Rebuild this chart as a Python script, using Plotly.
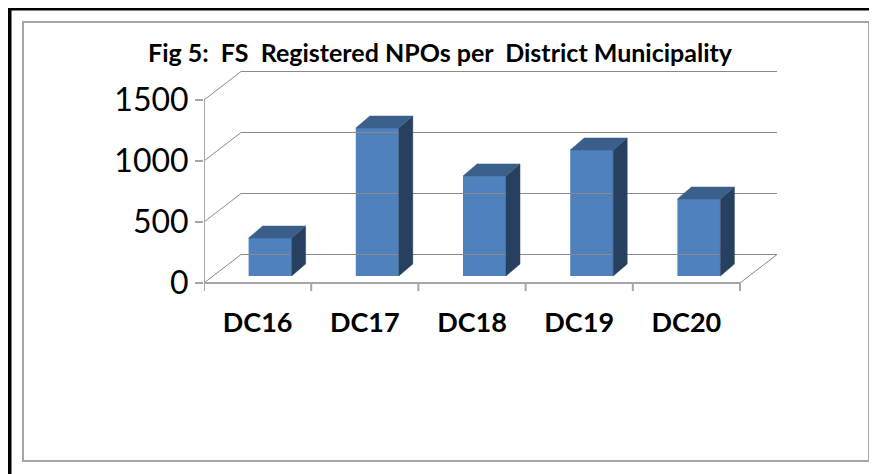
import plotly.graph_objects as go

categories = ["DC16", "DC17", "DC18", "DC19", "DC20"]
values = [311, 1213, 820, 1033, 631]
y_ticks = [0, 500, 1000, 1500]
title_text = "Fig 5:\u00a0 FS\u00a0 Registered NPOs per\u00a0 District Municipality"

# page offset of the figure inside the browser page (body margin)
OFF = 8
W, H = 877 - OFF, 474 - OFF

def P(v):
    return v - OFF

# plot area in page pixels
Lp, Rp, Tp, Bp = 204, 782, 68, 300
px_per_x = 107.2                        # pixels per category
units_per_px = 8.197                    # value units per pixel
x0 = -0.5
xr = [x0, x0 + (Rp - Lp) / px_per_x]
yr = [-(Bp - 283) * units_per_px, (283 - Tp) * units_per_px]

# oblique depth (floor / back wall) and bar depth
Dx, Dy = 37 / px_per_x, 28.5 * units_per_px
fx, fy = 12.5 / px_per_x, 7 * units_per_px
sx, sy = 14 / px_per_x, 12 * units_per_px
bw = 43 / px_per_x
n = len(categories)
xl, xrgt = -0.5, n - 0.5

def px(p):
    return (p - Lp) / (Rp - Lp)

def py(p):
    return (Bp - p) / (Bp - Tp)

fig = go.Figure()

# gridlines: back wall and left wall diagonals
gx, gy = [], []
for v in y_ticks:
    gx += [xl + Dx, xrgt + Dx, None]
    gy += [v + Dy, v + Dy, None]
    gx += [xl, xl + Dx, None]
    gy += [v, v + Dy, None]
gx += [xrgt, xrgt + Dx, None]
gy += [0, Dy, None]
fig.add_trace(go.Scatter(x=gx, y=gy, mode="lines", line=dict(color="#8a8a8a", width=1),
                         hoverinfo="skip", showlegend=False))

# front axes lines and x ticks
ax, ay = [xl, xl, None, xl, xrgt, None], [1500, 0, None, 0, 0, None]
tick_len = 8 * units_per_px
for k in range(n + 1):
    b = xl + k
    ax += [b, b, None]
    ay += [0, -tick_len, None]
fig.add_trace(go.Scatter(x=ax, y=ay, mode="lines", line=dict(color="#a6a6a6", width=2),
                         hoverinfo="skip", showlegend=False))

# bars: front face
xs = [i + fx for i in range(n)]
fig.add_trace(go.Bar(x=xs, y=values, base=[fy] * n, width=bw,
                     marker=dict(color="#4f81bd", line=dict(width=0)),
                     showlegend=False, hoverinfo="skip"))

# side and top faces
for i, v in enumerate(values):
    cx = xs[i]
    left, right = cx - bw / 2, cx + bw / 2
    top = fy + v
    fig.add_trace(go.Scatter(
        x=[right, right, right + sx, right + sx, right],
        y=[fy, top, top + sy, fy + sy, fy],
        mode="lines", fill="toself", fillcolor="#28405f",
        line=dict(color="#28405f", width=0.5), hoverinfo="skip", showlegend=False))
    fig.add_trace(go.Scatter(
        x=[left, right, right + sx, left + sx, left],
        y=[top, top, top + sy, top + sy, top],
        mode="lines", fill="toself", fillcolor="#3b5f8b",
        line=dict(color="#3b5f8b", width=0.5), hoverinfo="skip", showlegend=False))

shapes = [
    # outer black frame (left and top)
    dict(type="line", xref="paper", yref="paper", x0=px(9), x1=px(9), y0=py(6), y1=py(490),
         line=dict(color="black", width=5)),
    dict(type="line", xref="paper", yref="paper", x0=px(6.5), x1=px(890), y0=py(8), y1=py(8),
         line=dict(color="black", width=5)),
    # inner grey chart box
    dict(type="rect", xref="paper", yref="paper", x0=px(23), x1=px(869), y0=py(461), y1=py(22),
         line=dict(color="#a6a6a6", width=2)),
]

fig.update_layout(
    width=W, height=H,
    margin=dict(l=P(Lp), r=W - P(Rp), t=P(Tp), b=H - P(Bp), pad=0),
    paper_bgcolor="white", plot_bgcolor="rgba(0,0,0,0)",
    barmode="overlay",
    shapes=shapes,
    annotations=[dict(text="<b>" + title_text + "</b>", xref="paper", yref="paper",
                      x=px(440), y=py(52), xanchor="center", yanchor="middle",
                      showarrow=False, font=dict(family="Lato", size=25, color="black"))],
    xaxis=dict(range=xr, tickmode="array", tickvals=list(range(n)),
               ticktext=["<b>" + c + "</b>" for c in categories],
               ticks="", showgrid=False, zeroline=False, showline=False,
               tickfont=dict(family="Lato", size=27, color="black"),
               ticklabelstandoff=4, fixedrange=True),
    yaxis=dict(range=yr, tickmode="array", tickvals=y_ticks,
               ticktext=[str(v) for v in y_ticks],
               ticks="outside", ticklen=8, tickcolor="#a6a6a6", tickwidth=2,
               showgrid=False, zeroline=False, showline=False,
               tickfont=dict(family="Lato", size=32, color="black"), fixedrange=True),
)

fig.write_html("out.html")
